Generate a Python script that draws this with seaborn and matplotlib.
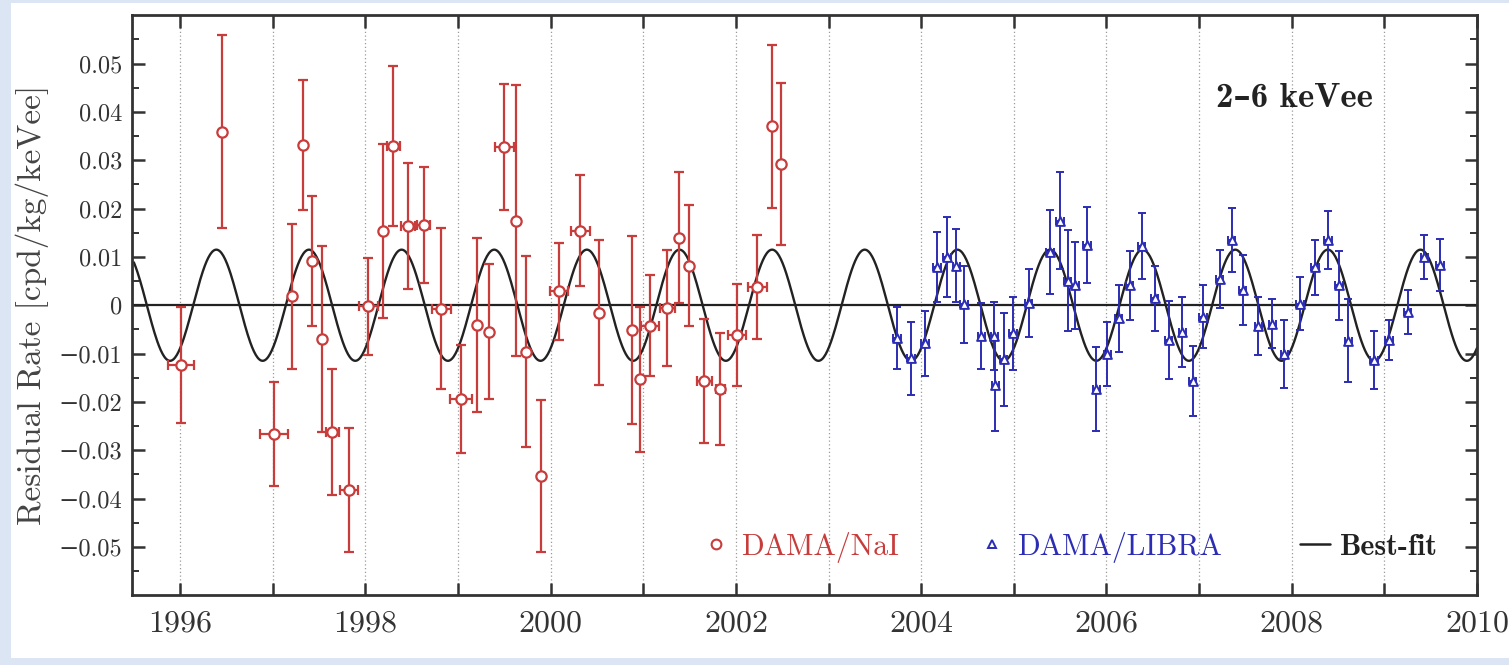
import numpy as np
import pandas as pd
import matplotlib
matplotlib.use('Agg')
import matplotlib.pyplot as plt
from matplotlib.lines import Line2D
from matplotlib.patches import Rectangle
import seaborn as sns

# DAMA/NaI residuals (year, residual rate, y error, x error)
nai_year = [1996.01, 1996.45, 1997.21, 1997.33, 1997.42, 1997.53, 1997.01, 1997.64, 1997.82, 1998.03,
            1998.19, 1998.30, 1998.46, 1998.63, 1998.82, 1999.03, 1999.20, 1999.33, 1999.50, 1999.62,
            1999.73, 1999.89, 2000.09, 2000.32, 2000.52, 2000.88, 2000.96, 2001.07, 2001.26, 2001.38,
            2001.49, 2001.66, 2001.83, 2002.01, 2002.23, 2002.39, 2002.49]
nai_rate = [-0.0123, 0.0359, 0.0019, 0.0332, 0.0092, -0.0070, -0.0267, -0.0262, -0.0383, -0.0002,
            0.0154, 0.0330, 0.0164, 0.0166, -0.0007, -0.0194, -0.0041, -0.0055, 0.0327, 0.0175,
            -0.0096, -0.0354, 0.0029, 0.0154, -0.0016, -0.0051, -0.0153, -0.0042, -0.0005, 0.0140,
            0.0082, -0.0157, -0.0173, -0.0062, 0.0038, 0.0370, 0.0292]
nai_err = [0.0120, 0.0200, 0.0150, 0.0134, 0.0134, 0.0193, 0.0108, 0.0130, 0.0128, 0.0100,
           0.0180, 0.0165, 0.0130, 0.0120, 0.0167, 0.0112, 0.0180, 0.0140, 0.0130, 0.0280,
           0.0197, 0.0157, 0.0100, 0.0115, 0.0150, 0.0195, 0.0150, 0.0105, 0.0120, 0.0135,
           0.0125, 0.0128, 0.0116, 0.0105, 0.0108, 0.0168, 0.0168]
nai_xerr = [0.14, 0.0, 0.0, 0.0, 0.0, 0.0, 0.15, 0.07, 0.10, 0.10,
            0.0, 0.07, 0.08, 0.07, 0.10, 0.12, 0.0, 0.0, 0.10, 0.0,
            0.0, 0.0, 0.10, 0.10, 0.0, 0.0, 0.0, 0.10, 0.08, 0.0,
            0.0, 0.08, 0.05, 0.10, 0.10, 0.0, 0.0]

# DAMA/LIBRA residuals
libra_year = [2003.74, 2003.89, 2004.04, 2004.17, 2004.28, 2004.38, 2004.46, 2004.65, 2004.79, 2004.80,
              2004.89, 2004.99, 2005.16, 2005.39, 2005.50, 2005.58, 2005.66, 2005.79, 2005.89, 2006.01,
              2006.13, 2006.25, 2006.38, 2006.52, 2006.67, 2006.82, 2006.93, 2007.04, 2007.22, 2007.35,
              2007.47, 2007.64, 2007.79, 2007.92, 2008.09, 2008.25, 2008.39, 2008.51, 2008.61, 2008.89,
              2009.05, 2009.25, 2009.43, 2009.60]
libra_rate = [-0.0067, -0.0110, -0.0079, 0.0079, 0.0100, 0.0082, 0.0002, -0.0063, -0.0064, -0.0165,
              -0.0112, -0.0058, 0.0005, 0.0110, 0.0175, 0.0051, 0.0041, 0.0125, -0.0173, -0.0101,
              -0.0027, 0.0041, 0.0123, 0.0014, -0.0072, -0.0055, -0.0157, -0.0024, 0.0055, 0.0135,
              0.0032, -0.0042, -0.0038, -0.0101, 0.0003, 0.0079, 0.0135, 0.0041, -0.0073, -0.0114,
              -0.0072, -0.0014, 0.0100, 0.0084]
libra_err = [0.0064, 0.0075, 0.0068, 0.0072, 0.0082, 0.0075, 0.0080, 0.0068, 0.0070, 0.0095,
             0.0096, 0.0075, 0.0070, 0.0087, 0.0100, 0.0105, 0.0090, 0.0079, 0.0087, 0.0067,
             0.0069, 0.0072, 0.0068, 0.0067, 0.0080, 0.0073, 0.0072, 0.0065, 0.0060, 0.0066,
             0.0072, 0.0060, 0.0050, 0.0070, 0.0055, 0.0057, 0.0060, 0.0071, 0.0085, 0.0060,
             0.0041, 0.0045, 0.0045, 0.0054]
libra_xerr = [0.04] * len(libra_year)

# best-fit cosine: A cos(2 pi (t - t0) / T)
fit_amp = 0.0115
fit_period = 1.0
fit_t0 = 0.39

ytick_vals = [-0.05, -0.04, -0.03, -0.02, -0.01, 0, 0.01, 0.02, 0.03, 0.04, 0.05]
ytick_labels = ['\u22120.05', '\u22120.04', '\u22120.03', '\u22120.02', '\u22120.01', '0',
                '0.01', '0.02', '0.03', '0.04', '0.05']
year_ticks = list(range(1996, 2011))
year_labels = [str(y) if y % 2 == 0 else '' for y in year_ticks]

red = '#c83c3c'
blue = '#2c2cb4'

sns.set_style('ticks')
plt.rcParams['font.family'] = ['cmr10', 'DejaVu Serif']
plt.rcParams['axes.unicode_minus'] = False

fig = plt.figure(figsize=(15.09, 6.65), dpi=100, facecolor='#dbe5f3')
fig.patches.append(Rectangle((11 / 1509, 7 / 665), 1 - 11 / 1509, 1 - 10 / 665,
                             transform=fig.transFigure, facecolor='white', edgecolor='none', zorder=-10))
ax = fig.add_axes([0.0875, 0.105, 0.8913, 0.872])
ax.set_zorder(5)

nai = pd.DataFrame({'year': nai_year, 'rate': nai_rate})
libra = pd.DataFrame({'year': libra_year, 'rate': libra_rate})

t = np.linspace(1995.5, 2010, 1500)
fit = pd.DataFrame({'year': t, 'rate': fit_amp * np.cos(2 * np.pi * (t - fit_t0) / fit_period)})

ax.axhline(0, color='#222222', lw=1.6, zorder=1)
sns.lineplot(data=fit, x='year', y='rate', ax=ax, color='#222222', lw=1.7, zorder=2)

ax.errorbar(nai_year, nai_rate, yerr=nai_err, xerr=nai_xerr, fmt='none',
            ecolor=red, elinewidth=1.6, capsize=3.5, capthick=1.6, zorder=3)
ax.errorbar(libra_year, libra_rate, yerr=libra_err, xerr=libra_xerr, fmt='none',
            ecolor=blue, elinewidth=1.4, capsize=3, capthick=1.4, zorder=3)
sns.scatterplot(data=nai, x='year', y='rate', ax=ax, marker='o', s=55,
                facecolor='white', edgecolor=red, linewidth=1.6, zorder=4)
sns.scatterplot(data=libra, x='year', y='rate', ax=ax, marker='^', s=40,
                facecolor='white', edgecolor=blue, linewidth=1.4, zorder=4)

ax.set_xlim(1995.48, 2010)
ax.set_ylim(-0.06, 0.06)
ax.set_xticks(year_ticks)
ax.set_xticklabels(year_labels)
ax.set_yticks(ytick_vals)
ax.set_yticklabels(ytick_labels)
ax.set_yticks(np.arange(-0.055, 0.06, 0.01), minor=True)
ax.grid(axis='x', which='major', linestyle=(0, (1, 2)), color='#9a9a9a', lw=0.9)
ax.tick_params(axis='both', which='major', direction='in', length=9, width=1.8,
               top=True, right=True, colors='#333333')
ax.tick_params(axis='y', which='minor', direction='in', length=5, width=1.4,
               left=True, right=True, color='#333333')
ax.tick_params(axis='x', labelsize=23, labelcolor='#333333', pad=11)
ax.tick_params(axis='y', labelsize=17.5, labelcolor='#333333', pad=7)
for s in ax.spines.values():
    s.set_linewidth(2.0)
    s.set_color('#333333')

ax.set_xlabel('')
ax.set_ylabel('Residual Rate [cpd/kg/keVee]', fontsize=24, color='#444444', labelpad=7)

ax.text(0.864, 0.857, '2\u20136 keVee', transform=ax.transAxes, ha='center', va='center',
        fontsize=25, fontweight='bold', family=['cmb10', 'DejaVu Serif'], color='#222222')

handles = [Line2D([], [], marker='o', ls='none', mfc='white', mec=red, mew=1.5, ms=7),
           Line2D([], [], marker='^', ls='none', mfc='white', mec=blue, mew=1.4, ms=6),
           Line2D([], [], color='#222222', lw=1.8)]
leg = ax.legend(handles, ['DAMA/NaI', 'DAMA/LIBRA', 'Best-fit'], ncol=3, frameon=False,
                loc='center right', bbox_to_anchor=(0.98, 0.083), fontsize=21.5,
                handlelength=1.0, handletextpad=0.35, columnspacing=2.6, borderaxespad=0)
txt = leg.get_texts()
txt[0].set_color(red)
txt[1].set_color(blue)
txt[2].set_color('#222222')
txt[2].set_family(['cmb10', 'DejaVu Serif'])

fig.savefig('out.png', dpi=100, facecolor=fig.get_facecolor())
